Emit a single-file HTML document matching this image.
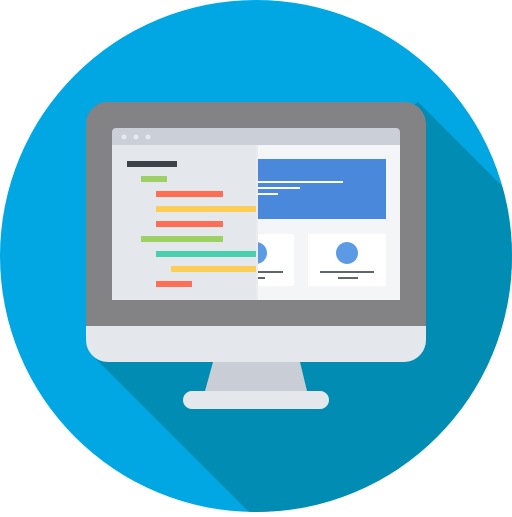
<!DOCTYPE html>
<html><head><style>html,body{margin:0;padding:0;background:#fff}</style></head><body>
<svg width="512" height="512" viewBox="0 0 512 512" xmlns="http://www.w3.org/2000/svg">
<defs><clipPath id="c"><circle cx="256" cy="256" r="256"/></clipPath></defs>
<circle cx="256" cy="256" r="256" fill="#00a7e2"/>
<polygon clip-path="url(#c)" points="418,102 520,204 520,520 257,520 92,355" fill="#008cb3"/>
<path d="M108,102 H404 A22,22 0 0 1 426,124 V328 H86 V124 A22,22 0 0 1 108,102 Z" fill="#838284"/>
<path d="M86,326 H426 V340 A22,22 0 0 1 404,362 H108 A22,22 0 0 1 86,340 Z" fill="#e4e7eb"/>
<polygon points="213,362 300,362 307,391 205,391" fill="#c9ced6"/>
<rect x="183" y="391" width="146" height="18" rx="9" fill="#e4e7eb"/>
<path d="M116,128 H396 A4,4 0 0 1 400,132 V145 H112 V132 A4,4 0 0 1 116,128 Z" fill="#cbcfd7"/>
<circle cx="124" cy="137" r="2.5" fill="#e8eaee"/><circle cx="136" cy="137" r="2.5" fill="#e8eaee"/><circle cx="148" cy="137" r="2.5" fill="#e8eaee"/>
<rect x="112" y="145" width="288" height="155" fill="#f4f5f7"/>
<rect x="256" y="159" width="130" height="60" fill="#4a88dc"/>
<rect x="256" y="181" width="87" height="2" fill="#fff"/>
<rect x="256" y="187" width="44" height="2" fill="#fff"/>
<rect x="256" y="193" width="22" height="2" fill="#fff"/>
<rect x="240" y="234" width="54" height="52" fill="#fff"/>
<rect x="308" y="234" width="78" height="52" fill="#fff"/>
<circle cx="256" cy="253" r="11" fill="#5c9ae6"/>
<circle cx="347" cy="253" r="11" fill="#5c9ae6"/>
<rect x="240" y="271" width="43" height="2" fill="#5f6570"/>
<rect x="240" y="277" width="25" height="2" fill="#5f6570"/>
<rect x="320" y="271" width="54" height="2" fill="#5f6570"/>
<rect x="338" y="277" width="20" height="2" fill="#5f6570"/>
<rect x="112" y="145" width="144" height="155" fill="#e4e7eb"/>
<rect x="256" y="145" width="2" height="155" fill="#e9ebee"/>
<rect x="127" y="161" width="50" height="6" fill="#3d4249"/>
<rect x="141" y="176" width="26" height="6" fill="#9dd165"/>
<rect x="156" y="191" width="67" height="6" fill="#fd6e55"/>
<rect x="156" y="206" width="100" height="6" fill="#fecd55"/>
<rect x="156" y="221" width="67" height="6" fill="#fd6e55"/>
<rect x="141" y="236" width="82" height="6" fill="#9dd165"/>
<rect x="156" y="251" width="100" height="6" fill="#48cfad"/>
<rect x="171" y="266" width="85" height="6" fill="#fecd55"/>
<rect x="156" y="281" width="36" height="6" fill="#fd6e55"/>
</svg>
</body></html>
